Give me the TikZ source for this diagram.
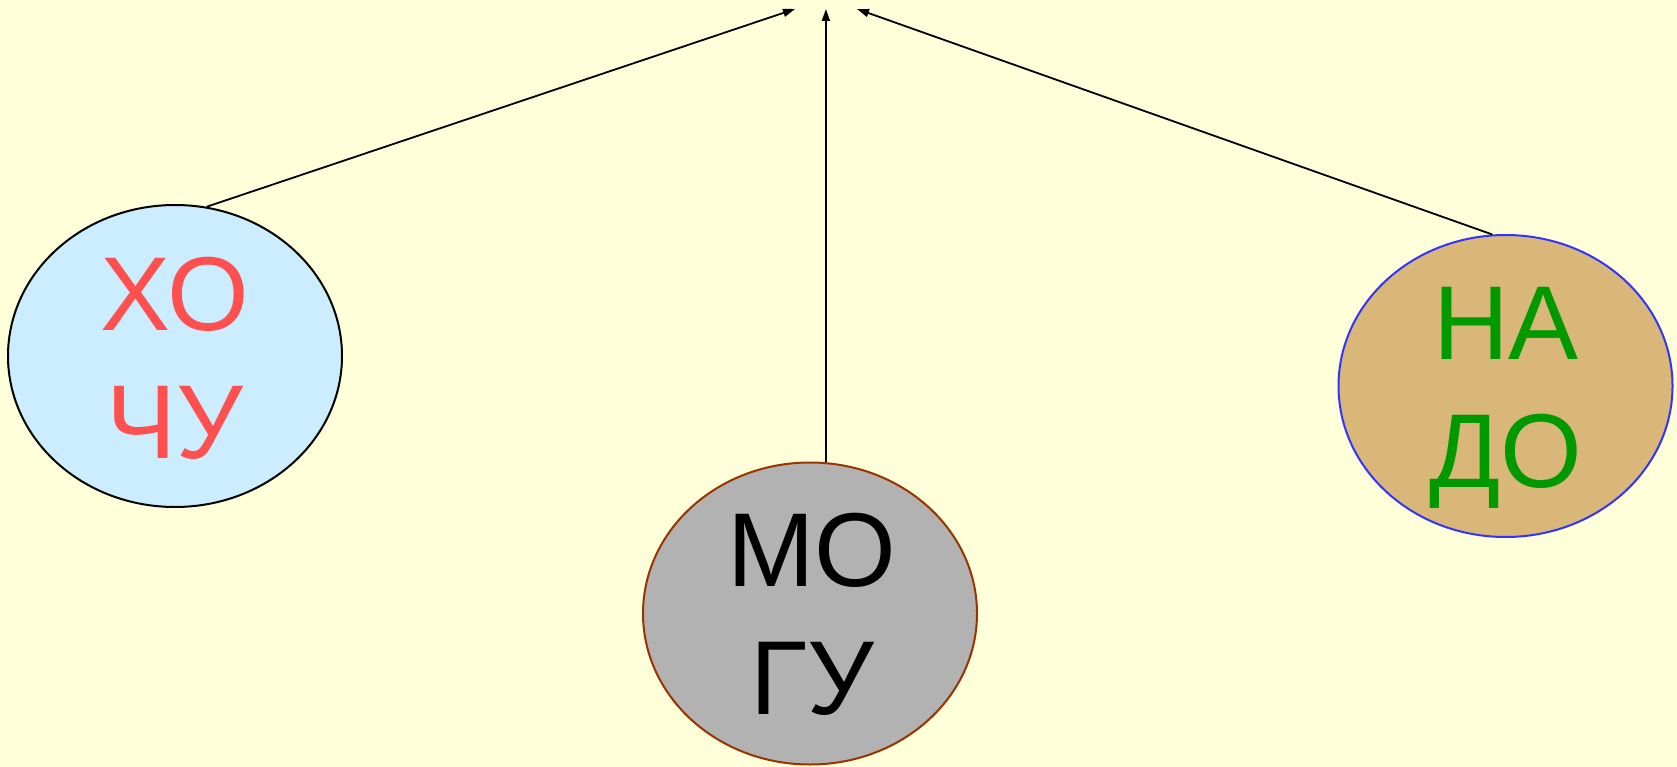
\documentclass[tikz,border=0pt]{standalone}
\usepackage{fontspec}
\setmainfont{Liberation Sans}
\usetikzlibrary{arrows.meta,shapes.geometric}
\definecolor{bg}{RGB}{255,255,217}
\definecolor{lblue}{RGB}{204,236,255}
\definecolor{greyfill}{RGB}{178,178,178}
\definecolor{tanfill}{RGB}{217,183,120}
\definecolor{redtext}{RGB}{255,80,80}
\definecolor{greentext}{RGB}{0,153,0}
\definecolor{blueline}{RGB}{51,51,255}
\definecolor{brownline}{RGB}{153,51,0}
\begin{document}
\begin{tikzpicture}[x=1pt,y=-1pt,
  oval/.style={ellipse, minimum width=334pt, minimum height=302pt, inner sep=0pt, line width=2pt},
  word/.style={anchor=north, inner sep=0pt, align=center, font=\fontsize{105}{128}\selectfont},
  link/.style={line width=1.8pt, -{Triangle[length=12pt,width=8pt]}}]
\fill[bg] (0,0) rectangle (1677,767);
\useasboundingbox (0,0) rectangle (1677,767);
\node[oval, draw=black, fill=lblue] (xo) at (175,356) {};
\node[oval, draw=brownline, fill=greyfill] (mo) at (810,613.5) {};
\node[oval, draw=blueline, fill=tanfill] (na) at (1505.5,386) {};
\node[word, text=redtext] (txo) at (175,257) {ХО\\ЧУ};
\node[word, text=black] (tmo) at (812,513) {МО\\ГУ};
\node[word, text=greentext] (tna) at (1506,287) {НА\\ДО};
\coordinate (t1) at (795,9);
\coordinate (t2) at (mo.84 |- 0,9);
\coordinate (t3) at (857,9);
\draw[link] (xo.78.6) -- (t1);
\draw[link] (mo.84) -- (t2);
\draw[link] (na.95.9) -- (t3);
\end{tikzpicture}
\end{document}
